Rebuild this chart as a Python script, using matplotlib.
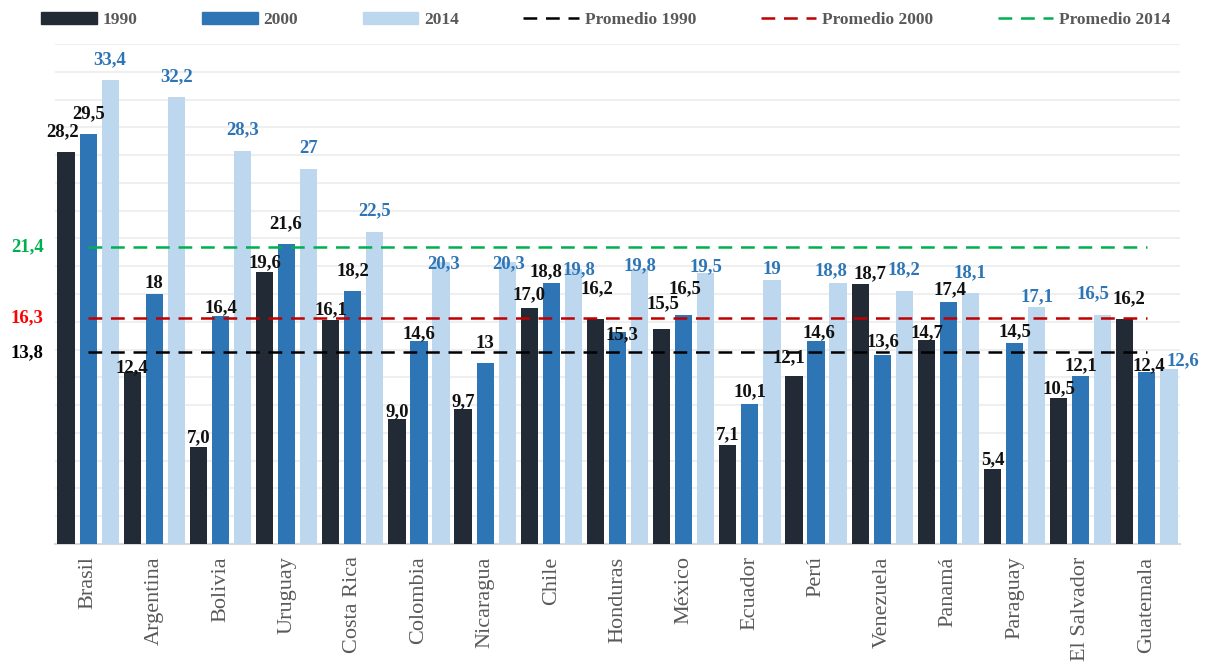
import matplotlib.pyplot as plt
from matplotlib.patches import Patch
from matplotlib.lines import Line2D
import numpy as np

plt.rcParams['font.family'] = ['Liberation Serif', 'DejaVu Serif']

# Tasas por país en tres años
paises = ['Brasil', 'Argentina', 'Bolivia', 'Uruguay', 'Costa Rica', 'Colombia',
          'Nicaragua', 'Chile', 'Honduras', 'México', 'Ecuador', 'Perú',
          'Venezuela', 'Panamá', 'Paraguay', 'El Salvador', 'Guatemala']
v1990 = [28.2, 12.4, 7.0, 19.6, 16.1, 9.0, 9.7, 17.0, 16.2, 15.5, 7.1, 12.1,
         18.7, 14.7, 5.4, 10.5, 16.2]
v2000 = [29.5, 18, 16.4, 21.6, 18.2, 14.6, 13, 18.8, 15.3, 16.5, 10.1, 14.6,
         13.6, 17.4, 14.5, 12.1, 12.4]
v2014 = [33.4, 32.2, 28.3, 27, 22.5, 20.3, 20.3, 19.8, 19.8, 19.5, 19, 18.8,
         18.2, 18.1, 17.1, 16.5, 12.6]
prom1990, prom2000, prom2014 = 13.8, 16.3, 21.4

# desplazamiento de cada etiqueta (dx, altura sobre la barra) en píxeles
pos1990 = [(-4, 22), (0, 6), (0, 10), (0, 11), (0, 12), (0, 9), (0, 9),
           (0, 15), (1, 32), (1, 26), (0, 12), (-5, 20), (10, 12), (1, 9),
           (0, 11), (0, 11), (4, 22)]
pos2000 = [(0, 22), (0, 12), (0, 10), (-1, 22), (0, 22), (0, 9), (0, 21),
           (-5, 13), (4, -2), (1, 28), (0, 13), (3, 10), (1, 15), (2, 14),
           (0, 12), (0, 12), (2, 8)]
pos2014 = [(0, 22), (0, 22), (0, 23), (0, 22), (0, 22), (3, 0), (1, 0),
           (6, 1), (0, 5), (0, 8), (0, 12), (-7, 14), (0, 23), (0, 21),
           (0, 11), (-10, 23), (14, 10)]

c1990, c2000, c2014 = '#222A35', '#2E75B6', '#BDD7EE'
gris = '#595959'

x = np.arange(len(paises))
paso = 1 / 3
ancho = 0.26

fig = plt.figure(figsize=(12.07, 6.69), dpi=100)
ax = fig.add_axes([0.0456, 0.187, 0.932, 0.747])

b1 = ax.bar(x - paso, v1990, ancho, color=c1990, zorder=3)
b2 = ax.bar(x, v2000, ancho, color=c2000, zorder=3)
b3 = ax.bar(x + paso, v2014, ancho, color=c2014, zorder=3)

# Líneas de promedio
estilo = (0, (5.5, 3.5))
x_lin = [0, len(paises) - 1]
for val, col in [(prom1990, 'black'), (prom2000, '#C00000'), (prom2014, '#00B050')]:
    ax.plot(x_lin, [val, val], color=col, lw=1.8, ls=estilo, zorder=4)

for val, col in [(prom2014, '#00B050'), (prom2000, '#FF0000'), (prom1990, 'black')]:
    ax.text(-0.92, val, f'{val:.1f}'.replace('.', ','), color=col,
            fontsize=13.5, fontweight='bold', ha='center', va='center')


def etiquetas(barras, valores, posiciones, color, fmt):
    for r, v, (dx, dy) in zip(barras, valores, posiciones):
        ax.annotate(fmt(v).replace('.', ','),
                    xy=(r.get_x() + r.get_width() / 2, r.get_height()),
                    xytext=(dx, dy - 6), textcoords='offset pixels',
                    ha='center', va='baseline', fontsize=13.5,
                    fontweight='bold', color=color, zorder=5)


etiquetas(b1, v1990, pos1990, '#111111', lambda v: f'{v:.1f}')
etiquetas(b2, v2000, pos2000, '#111111', lambda v: f'{v:g}')
etiquetas(b3, v2014, pos2014, c2000, lambda v: f'{v:g}')

ax.set_xlim(-0.5, len(paises) - 0.5)
ax.set_ylim(0, 36)
ax.set_yticks(np.arange(0, 37, 2))
ax.set_yticklabels([])
ax.tick_params(axis='y', length=0)
ax.grid(axis='y', color='#EFEFEF', lw=1.5, zorder=0)

ax.set_xticks(x)
ax.set_xticklabels(paises, rotation=90, fontsize=16, color=gris)
ax.tick_params(axis='x', length=0, pad=9)

for s in ['top', 'right', 'left']:
    ax.spines[s].set_visible(False)
ax.spines['bottom'].set_color('#D9D9D9')
ax.spines['bottom'].set_linewidth(1.5)

handles = [Patch(color=c1990), Patch(color=c2000), Patch(color=c2014),
           Line2D([], [], color='black', lw=1.8, ls=estilo),
           Line2D([], [], color='#C00000', lw=1.8, ls=estilo),
           Line2D([], [], color='#00B050', lw=1.8, ls=estilo)]
nombres = ['1990', '2000', '2014', 'Promedio 1990', 'Promedio 2000', 'Promedio 2014']
leg = fig.legend(handles, nombres, loc='center', bbox_to_anchor=(0.502, 0.970),
                 ncol=6, frameon=False, handlelength=3.2, handleheight=0.7,
                 columnspacing=3.7, handletextpad=0.35,
                 prop={'weight': 'bold', 'size': 12.5})
for t in leg.get_texts():
    t.set_color(gris)

fig.savefig('out.png', dpi=100)
